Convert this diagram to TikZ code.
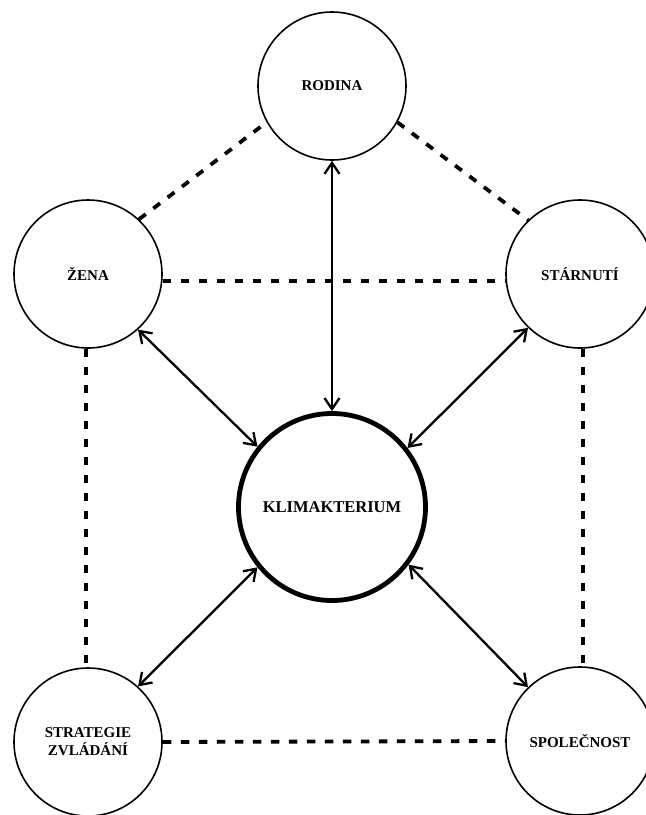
\documentclass[tikz,border=0pt]{standalone}
\usepackage{fontspec}
\setmainfont{Liberation Serif}
\usetikzlibrary{arrows.meta}
\begin{document}
\begin{tikzpicture}[x=1pt,y=-1pt,
  topic/.style={circle,draw,line width=1.6pt,minimum size=148pt,inner sep=0pt,align=center,font=\fontsize{15}{18}\selectfont\bfseries},
  core/.style={circle,draw,line width=4.8pt,minimum size=187pt,inner sep=0pt,font=\fontsize{16.5}{20}\selectfont\bfseries},
  link/.style={line width=3.8pt,dash pattern=on 8.5pt off 9.5pt},
  rel/.style={line width=2.3pt,{Straight Barb[length=11pt,width=15pt]}-{Straight Barb[length=11pt,width=15pt]}}
]
\useasboundingbox (0,0) rectangle (646,815);
\node[topic] (rodina) at (332,86) {RODINA};
\node[topic] (zena) at (88,274) {ŽENA};
\node[topic] (starnuti) at (580,274) {STÁRNUTÍ};
\node[core] (klim) at (332,507) {KLIMAKTERIUM};
\node[topic] (strategie) at (88,742) {STRATEGIE\\ZVLÁDÁNÍ};
\node[topic] (spolecnost) at (580,741) {SPOLEČNOST};

\draw[link] (zena.47) -- (rodina.209);
\draw[link] (rodina.-29) -- (starnuti.134);
\draw[link] ([yshift=-7pt]zena.east) -- ([yshift=-7pt]starnuti.west);
\draw[link] ([xshift=-2pt]zena.south) -- ([xshift=-2pt]strategie.north);
\draw[link] ([xshift=3pt]starnuti.south) -- ([xshift=3pt]spolecnost.north);
\draw[link] (strategie.east) -- (spolecnost.west);

\draw[rel] (rodina.south) -- (klim.north);
\draw[rel] (zena.-48) -- (klim.141);
\draw[rel] (starnuti.226) -- (klim.38);
\draw[rel] (strategie.48) -- (klim.219);
\draw[rel] (spolecnost.134) -- (klim.-37);
\end{tikzpicture}
\end{document}
